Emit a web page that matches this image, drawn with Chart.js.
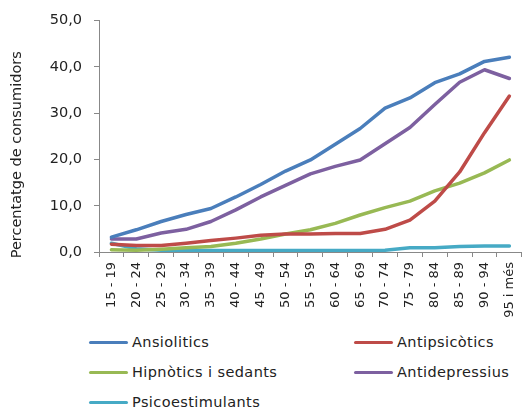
<!DOCTYPE html>
<html>
<head>
<meta charset="utf-8">
<script src="https://cdn.jsdelivr.net/npm/chart.js@4"></script>
<style>
  html, body { margin: 0; padding: 0; background: #fff; }
  body { position: relative; width: 530px; height: 411px; overflow: hidden; }
  #chart { position: absolute; left: 0; top: 0; width: 530px; height: 325px; }
  #legend { position: absolute; left: 0; top: 325px; width: 530px; height: 86px; font-family: 'DejaVu Sans', sans-serif; font-size: 14.5px; letter-spacing: 0.4px; color: #222; }
  .item { position: absolute; display: flex; align-items: center; height: 18px; }
  .swatch { width: 39px; height: 3px; border-radius: 2px; margin-right: 4px; }
</style>
</head>
<body>
<canvas id="chart" width="530" height="325"></canvas>
<div id="legend"></div>
<script>
// age groups
const categories = ['15 - 19', '20 - 24', '25 - 29', '30 - 34', '35 - 39', '40 - 44', '45 - 49', '50 - 54', '55 - 59',
    '60 - 64', '65 - 69', '70 - 74', '75 - 79', '80 - 84', '85 - 89', '90 - 94', '95 i més'];

// % of consumers
const ansiolitics = [3.2, 4.8, 6.6, 8.1, 9.4, 11.9, 14.6, 17.5, 19.9, 23.3, 26.7, 31.1, 33.3, 36.6, 38.5, 41.2, 42.1];
const antipsicotics = [1.7, 1.4, 1.4, 1.9, 2.5, 3.0, 3.6, 3.9, 3.9, 4.0, 4.0, 4.9, 6.9, 11.0, 17.3, 25.8, 33.7];
const hipnotics = [0.5, 0.4, 0.6, 0.9, 1.2, 1.9, 2.8, 3.9, 4.8, 6.2, 8.0, 9.6, 11.0, 13.2, 14.9, 17.1, 19.9];
const antidepressius = [2.8, 2.8, 4.1, 4.9, 6.6, 9.1, 11.9, 14.4, 16.9, 18.5, 19.9, 23.4, 26.9, 31.9, 36.7, 39.4, 37.5];
const psicoestimulants = [1.9, 0.7, 0.4, 0.3, 0.3, 0.3, 0.3, 0.3, 0.3, 0.3, 0.3, 0.4, 0.9, 0.9, 1.2, 1.3, 1.3];

const yTicks = [0, 10, 20, 30, 40, 50];

const font = 'DejaVu Sans';

function line(label, data, color) {
    return {
        label: label,
        data: data,
        borderColor: color,
        backgroundColor: color,
        borderWidth: 3.5,
        pointRadius: 0,
        tension: 0,
        borderCapStyle: 'round',
        borderJoinStyle: 'round'
    };
}

const datasets = [
    line('Ansiolitics', ansiolitics, '#4A7EBB'),
    line('Antipsicòtics', antipsicotics, '#BE4B48'),
    line('Hipnòtics i sedants', hipnotics, '#98B954'),
    line('Antidepressius', antidepressius, '#7D60A0'),
    line('Psicoestimulants', psicoestimulants, '#46AAC5')
];

const config = {
    type: 'line',
    data: { labels: categories, datasets: datasets },
    options: {
        responsive: false,
        animation: false,
        layout: { padding: { top: 12, right: 0, left: 0, bottom: 0 } },
        plugins: { legend: { display: false }, tooltip: { enabled: false } },
        scales: {
            x: {
                offset: true,
                grid: { drawOnChartArea: false, offset: true, tickLength: 5, color: '#888' },
                border: { color: '#888', width: 1 },
                ticks: { minRotation: 90, maxRotation: 90, autoSkip: false, color: '#222', padding: 5, font: { family: font, size: 13 } },
                afterFit: function(scale) { scale.height = 73; }
            },
            y: {
                min: 0,
                max: 50,
                afterBuildTicks: function(scale) { scale.ticks = yTicks.map(v => ({ value: v })); },
                grid: { drawOnChartArea: false, tickLength: 5, color: '#888' },
                border: { color: '#888', width: 1 },
                ticks: {
                    color: '#222',
                    padding: 12,
                    font: { family: font, size: 14.5 },
                    callback: function(value) { return value.toFixed(1).replace('.', ','); }
                },
                title: {
                    display: true,
                    // trailing spaces push the text down a little, as in the original
                    text: 'Percentatge de consumidors\u00A0\u00A0\u00A0\u00A0\u00A0\u00A0\u00A0\u00A0',
                    color: '#222',
                    font: { family: font, size: 14.5 },
                    padding: { top: 9, bottom: 0 }
                },
                afterFit: function(scale) { scale.width = 99; }
            }
        }
    }
};

const chart = new Chart(document.getElementById('chart').getContext('2d'), config);

// legend in two columns like the original
const legendPos = [[89, 0], [354, 0], [89, 30], [354, 30], [89, 60]];
const legendEl = document.getElementById('legend');
datasets.forEach(function(ds, i) {
    const item = document.createElement('div');
    item.className = 'item';
    item.style.left = legendPos[i][0] + 'px';
    item.style.top = (legendPos[i][1] + 8) + 'px';
    item.innerHTML = '<span class="swatch" style="background:' + ds.borderColor + '"></span><span>' + ds.label + '</span>';
    legendEl.appendChild(item);
});
</script>
</body>
</html>
